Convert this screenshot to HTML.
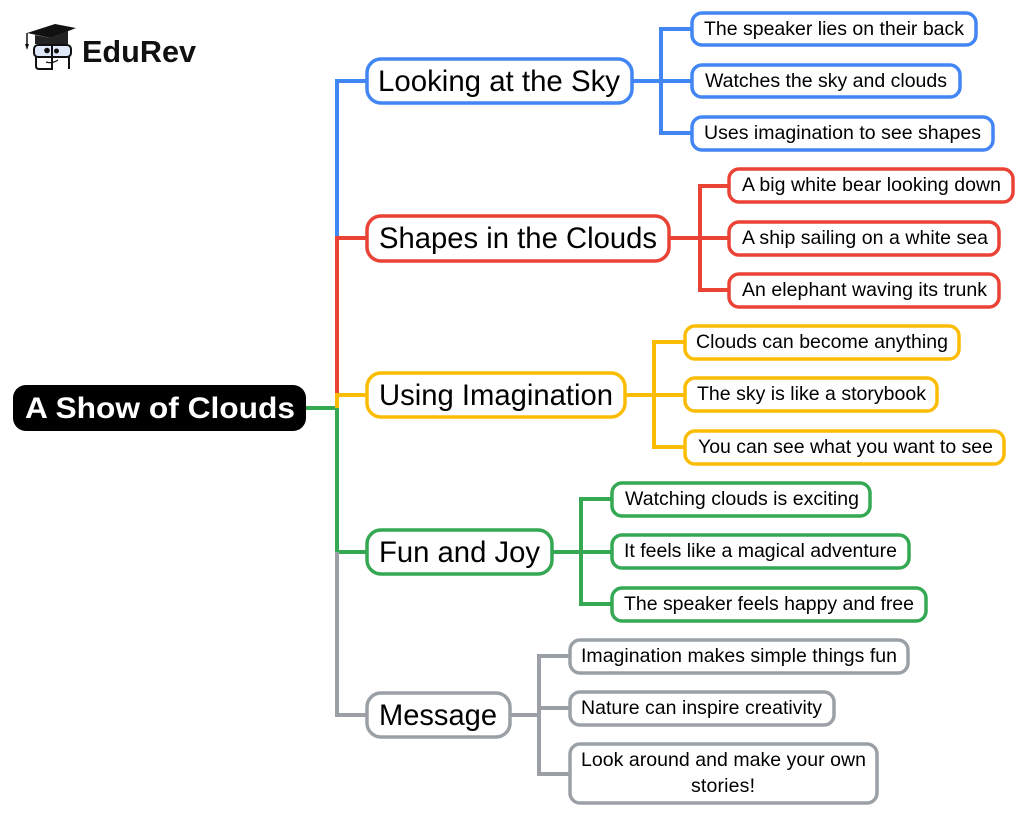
<!DOCTYPE html>
<html><head><meta charset="utf-8"><style>
html,body{margin:0;padding:0;background:#fff}
svg{display:block}
text{font-family:"Liberation Sans",sans-serif;fill:#000;text-anchor:start}
.l{font-size:19.5px}.m{font-size:30px}
.n{fill:#fff;stroke-width:3.5}
.c{fill:none;stroke-width:4}
</style></head><body>
<svg width="1024" height="815" viewBox="0 0 1024 815" xmlns="http://www.w3.org/2000/svg">
<rect width="1024" height="815" fill="#fff"/>
<!-- logo -->
<g>
<path d="M27 33 L55 24 L76 28 L51 38 Z" fill="#111"/>
<path d="M35 35 L35 44 L68 44 L68 31 L51 38 Z" fill="#222"/>
<path d="M27 33 V45" stroke="#111" stroke-width="1.500"/><path d="M25 44 h4 l-2 6z" fill="#111"/>
<rect x="34" y="45" width="37" height="12" rx="4" fill="#dfe8f8" stroke="#111" stroke-width="2"/>
<circle cx="47" cy="50.500" r="2.800" fill="#111"/><circle cx="56.500" cy="51" r="2.500" fill="#111"/>
<path d="M36 57 V66 Q36 69 39 69 H52 V45 M69 57 V69" fill="none" stroke="#111" stroke-width="2"/>
<path d="M46 62 Q52 64 58 60" fill="none" stroke="#111" stroke-width="1.200"/>
</g>
<text x="82" y="62" font-size="31" font-weight="700" textLength="114" lengthAdjust="spacingAndGlyphs" style="fill:#111">EduRev</text>

<!-- trunk -->
<g class="c">
<path class="c" stroke="#4285f4" d="M367 81 H337 V238"/>
<path class="c" stroke="#ea4335" d="M367 238 H337 V395"/>
<path class="c" stroke="#34a853" d="M305 408 H337 V552 H367"/>
<path class="c" stroke="#fbbc04" d="M367 395 H337 V408"/>
<path class="c" stroke="#9aa0a6" d="M337 552 V715 H367"/>
<!-- branches -->
<path class="c" stroke="#4285f4" d="M632 81 H692 M692 29 H661 V133 H692"/>
<path class="c" stroke="#ea4335" d="M669 238 H729 M729 186 H700 V290 H729"/>
<path class="c" stroke="#fbbc04" d="M625 395 H685 M685 342 H654 V447 H685"/>
<path class="c" stroke="#34a853" d="M552 552 H612 M612 499 H581 V604 H612"/>
<path class="c" stroke="#9aa0a6" d="M510 715 H539 M570 708 H539 M570 656 H539 V774 H570"/>
</g>

<!-- root -->
<rect x="13" y="385" width="293" height="46" rx="13" fill="#000"/>
<text x="25" y="418" font-size="30" font-weight="700" textLength="270" lengthAdjust="spacingAndGlyphs" style="fill:#fff">A Show of Clouds</text>

<!-- main nodes -->
<rect class="n" stroke="#4285f4" x="367" y="59" width="265" height="44" rx="14"/>
<text class="m" x="378" y="91" textLength="242" lengthAdjust="spacingAndGlyphs">Looking at the Sky</text>
<rect class="n" stroke="#ea4335" x="367" y="216" width="302" height="45" rx="14"/>
<text class="m" x="379" y="248" textLength="278" lengthAdjust="spacingAndGlyphs">Shapes in the Clouds</text>
<rect class="n" stroke="#fbbc04" x="367" y="373" width="258" height="44" rx="14"/>
<text class="m" x="379" y="405" textLength="234" lengthAdjust="spacingAndGlyphs">Using Imagination</text>
<rect class="n" stroke="#34a853" x="367" y="530" width="185" height="44" rx="14"/>
<text class="m" x="379" y="562" textLength="161" lengthAdjust="spacingAndGlyphs">Fun and Joy</text>
<rect class="n" stroke="#9aa0a6" x="367" y="693" width="143" height="44" rx="14"/>
<text class="m" x="379" y="725" textLength="118" lengthAdjust="spacingAndGlyphs">Message</text>

<!-- leaves -->
<rect class="n" stroke="#4285f4" x="692" y="13" width="284" height="32" rx="10"/>
<text class="l" x="704" y="35" textLength="260">The speaker lies on their back</text>
<rect class="n" stroke="#4285f4" x="692" y="65" width="268" height="32" rx="10"/>
<text class="l" x="705" y="87" textLength="242">Watches the sky and clouds</text>
<rect class="n" stroke="#4285f4" x="692" y="117" width="301" height="33" rx="10"/>
<text class="l" x="704" y="139" textLength="277">Uses imagination to see shapes</text>

<rect class="n" stroke="#ea4335" x="729" y="169" width="284" height="33" rx="10"/>
<text class="l" x="742" y="191" textLength="259">A big white bear looking down</text>
<rect class="n" stroke="#ea4335" x="729" y="222" width="270" height="33" rx="10"/>
<text class="l" x="742" y="244" textLength="246">A ship sailing on a white sea</text>
<rect class="n" stroke="#ea4335" x="729" y="274" width="270" height="33" rx="10"/>
<text class="l" x="742" y="296" textLength="245">An elephant waving its trunk</text>

<rect class="n" stroke="#fbbc04" x="685" y="326" width="274" height="33" rx="10"/>
<text class="l" x="696" y="348" textLength="252">Clouds can become anything</text>
<rect class="n" stroke="#fbbc04" x="685" y="378" width="252" height="33" rx="10"/>
<text class="l" x="697" y="400" textLength="229">The sky is like a storybook</text>
<rect class="n" stroke="#fbbc04" x="685" y="431" width="319" height="33" rx="10"/>
<text class="l" x="698" y="453" textLength="295">You can see what you want to see</text>

<rect class="n" stroke="#34a853" x="612" y="483" width="258" height="33" rx="10"/>
<text class="l" x="625" y="505" textLength="234">Watching clouds is exciting</text>
<rect class="n" stroke="#34a853" x="612" y="535" width="297" height="33" rx="10"/>
<text class="l" x="624" y="557" textLength="273">It feels like a magical adventure</text>
<rect class="n" stroke="#34a853" x="612" y="588" width="314" height="33" rx="10"/>
<text class="l" x="624" y="610" textLength="290">The speaker feels happy and free</text>

<rect class="n" stroke="#9aa0a6" x="570" y="640" width="338" height="33" rx="10"/>
<text class="l" x="581" y="662" textLength="316">Imagination makes simple things fun</text>
<rect class="n" stroke="#9aa0a6" x="570" y="692" width="264" height="33" rx="10"/>
<text class="l" x="581" y="714" textLength="241">Nature can inspire creativity</text>
<rect class="n" stroke="#9aa0a6" x="570" y="744" width="307" height="59" rx="10"/>
<text class="l" x="581" y="766" textLength="285">Look around and make your own</text>
<text class="l" x="691" y="792" textLength="64">stories!</text>
</svg>
</body></html>
